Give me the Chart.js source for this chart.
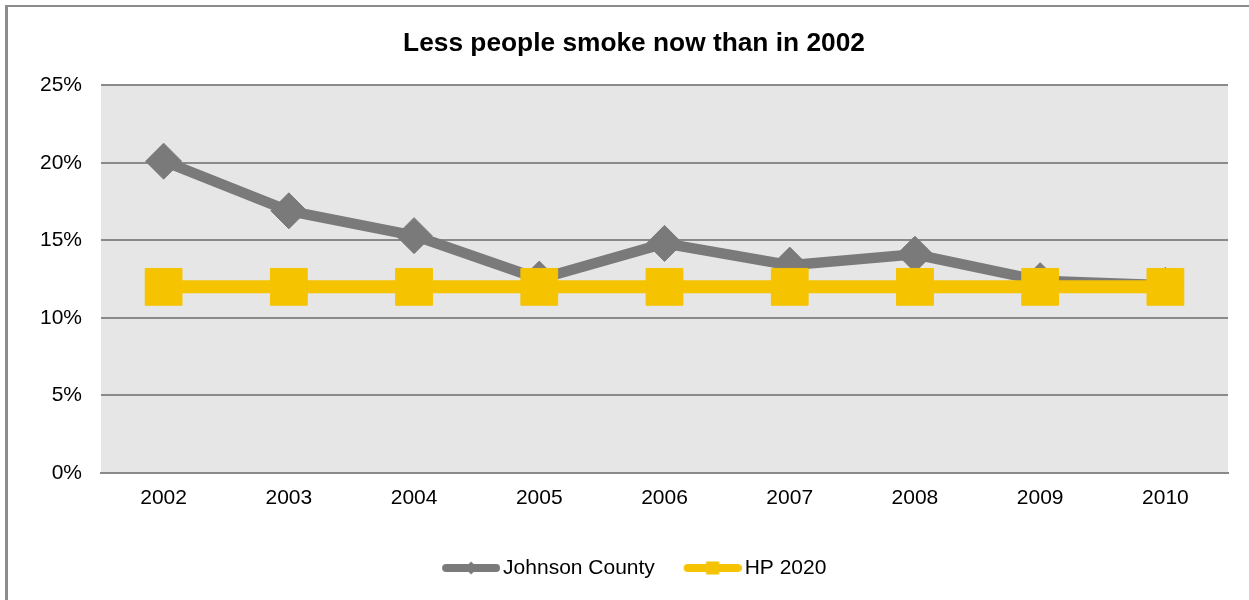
<!DOCTYPE html>
<html>
<head>
<meta charset="utf-8">
<script src="https://cdn.jsdelivr.net/npm/chart.js@4"></script>
<style>
  html, body { margin: 0; padding: 0; background: #ffffff; overflow: hidden; }
  #frame { position: absolute; left: 5px; top: 5px; width: 1400px; height: 800px;
           border-left: 3px solid #8c8c8c; border-top: 2px solid #8c8c8c; }
  #wrap { position: absolute; left: 0; top: 0; width: 1249px; height: 600px; }
</style>
</head>
<body>
<div id="frame"></div>
<div id="wrap"><canvas id="c" width="1249" height="600"></canvas></div>
<script>
const categories = ['2002', '2003', '2004', '2005', '2006', '2007', '2008', '2009', '2010'];
const johnsonCounty = [20.1, 16.9, 15.3, 12.5, 14.8, 13.4, 14.1, 12.4, 12.1];
const hp2020 = [12, 12, 12, 12, 12, 12, 12, 12, 12];
const seriesNames = ['Johnson County', 'HP 2020'];
const titleText = 'Less people smoke now than in 2002';

const GREY = '#7a7a7a';
const YELLOW = '#f5c300';
const GRID = '#8a8a8a';
const FONT = "'Liberation Sans', Arial, sans-serif";

// legend sample: short thick line with a small marker, content shifted right by d
function legendSample(color, shape, d) {
  const cv = document.createElement('canvas');
  cv.width = 58 + 2 * d; cv.height = 18;
  const g = cv.getContext('2d');
  g.translate(2 * d, 0);
  g.strokeStyle = color; g.lineWidth = 8; g.lineCap = 'round';
  g.beginPath(); g.moveTo(4, 9); g.lineTo(54, 9); g.stroke();
  g.fillStyle = color;
  g.beginPath();
  if (shape === 'diamond') {
    g.moveTo(29, 2.5); g.lineTo(35.5, 9); g.lineTo(29, 15.5); g.lineTo(22.5, 9);
  } else {
    g.rect(22.5, 2.5, 13, 13);
  }
  g.closePath(); g.fill();
  return cv;
}

const plotBg = {
  id: 'plotBg',
  beforeDraw(chart) {
    const a = chart.chartArea, ctx = chart.ctx;
    ctx.save(); ctx.fillStyle = '#e6e6e6';
    ctx.fillRect(a.left, a.top, a.right - a.left, a.bottom - a.top);
    ctx.restore();
  }
};

const samples = [legendSample(GREY, 'diamond', 4), legendSample(YELLOW, 'square', 4)];

new Chart(document.getElementById('c'), {
  type: 'line',
  data: {
    labels: categories,
    datasets: [
      {
        label: seriesNames[1], data: hp2020,
        borderColor: YELLOW, backgroundColor: YELLOW, borderWidth: 13,
        pointStyle: 'rect', pointRadius: 26, pointHoverRadius: 26,
        pointBackgroundColor: YELLOW, pointBorderColor: YELLOW, pointBorderWidth: 1,
        tension: 0, fill: false
      },
      {
        label: seriesNames[0], data: johnsonCounty,
        borderColor: GREY, backgroundColor: GREY, borderWidth: 10.5,
        pointStyle: 'rectRot', pointRadius: 18, pointHoverRadius: 18,
        pointBackgroundColor: GREY, pointBorderColor: GREY, pointBorderWidth: 1,
        tension: 0, fill: false
      }
    ]
  },
  options: {
    responsive: false,
    animation: false,
    events: [],
    layout: { autoPadding: false, padding: { left: 40, right: 21, top: 6, bottom: 11.5 } },
    plugins: {
      tooltip: { enabled: false },
      title: {
        display: true, text: titleText, color: '#000',
        font: { family: FONT, size: 26.3, weight: 'bold' },
        padding: { top: 22, bottom: 25.6 }
      },
      legend: {
        position: 'bottom',
        labels: {
          usePointStyle: true,
          pointStyleWidth: 51,
          boxHeight: 21,
          padding: 28.3,
          color: '#000',
          font: { family: FONT, size: 21 },
          generateLabels(chart) {
            return [1, 0].map((di, k) => ({
              text: chart.data.datasets[di].label,
              datasetIndex: di,
              pointStyle: samples[k],
              fillStyle: 'rgba(0,0,0,0)',
              strokeStyle: 'rgba(0,0,0,0)',
              lineWidth: 0,
              hidden: false,
              fontColor: '#000'
            }));
          }
        }
      }
    },
    scales: {
      x: {
        offset: true,
        grid: { display: false, drawTicks: false },
        border: { display: true, color: GRID, width: 2 },
        ticks: { color: '#000', font: { family: FONT, size: 21 }, padding: 13, maxRotation: 0 },
        afterFit(s) { s.height = 56.2; s.paddingLeft = 0; s.paddingRight = 0; }
      },
      y: {
        min: 0, max: 25,
        grid: { color: GRID, lineWidth: 2, drawTicks: false },
        border: { display: false },
        ticks: {
          stepSize: 5, color: '#000', font: { family: FONT, size: 21 }, padding: 19,
          callback: (v) => v + '%'
        },
        afterFit(s) { s.width = 61; s.paddingTop = 0; s.paddingBottom = 0; }
      }
    }
  },
  plugins: [plotBg]
});
</script>
</body>
</html>
